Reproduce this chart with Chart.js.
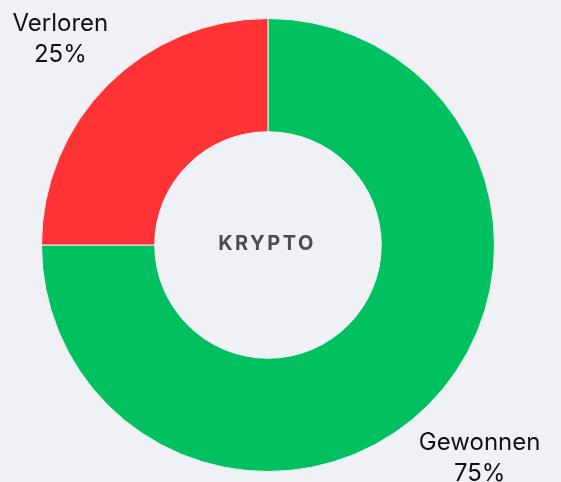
<!DOCTYPE html>
<html>
<head>
<meta charset="utf-8">
<script src="https://cdn.jsdelivr.net/npm/chart.js@4"></script>
<style>
  html, body { margin: 0; padding: 0; background: #f0f1f7; }
  #wrap { width: 561px; height: 482px; position: relative; }
</style>
</head>
<body>
<div id="wrap"><canvas id="chart"></canvas></div>
<script>
const labels = ['Gewonnen', 'Verloren'];
const values = [75, 25];
const colors = ['#00c060', '#ff3333'];
const centerTitle = 'KRYPTO';

// labels outside each slice, name + percent
const sliceLabels = {
    id: 'sliceLabels',
    afterDatasetsDraw(chart) {
        const ctx = chart.ctx;
        const meta = chart.getDatasetMeta(0);
        const total = values.reduce((a, b) => a + b, 0);
        ctx.save();
        ctx.letterSpacing = '0px';
        ctx.font = '24px Inter';
        ctx.fillStyle = '#111111';
        ctx.textAlign = 'center';
        ctx.textBaseline = 'middle';
        meta.data.forEach((arc, i) => {
            const p = arc.getProps(['x', 'y', 'startAngle', 'endAngle', 'outerRadius'], true);
            const mid = (p.startAngle + p.endAngle) / 2;
            const r = p.outerRadius + 70;
            const x = p.x + Math.cos(mid) * r + 2;
            const y = p.y + Math.sin(mid) * r + 3;
            ctx.fillText(labels[i], x, y - 15);
            ctx.fillText(Math.round(values[i] / total * 100) + '%', x, y + 16);
        });
        ctx.restore();
    }
};

const centerText = {
    id: 'centerText',
    afterDatasetsDraw(chart) {
        const ctx = chart.ctx;
        const arc = chart.getDatasetMeta(0).data[0];
        ctx.save();
        ctx.font = 'bold 20px Inter';
        ctx.letterSpacing = '2.5px';
        ctx.fillStyle = '#4d4d50';
        ctx.textAlign = 'center';
        ctx.textBaseline = 'middle';
        ctx.fillText(centerTitle, arc.x - 1, arc.y - 1);
        ctx.letterSpacing = '0px';
        ctx.restore();
    }
};

new Chart(document.getElementById('chart'), {
    type: 'doughnut',
    data: {
        labels: labels,
        datasets: [{
            data: values,
            backgroundColor: colors,
            borderColor: '#f0f1f7',
            borderWidth: 1
        }]
    },
    options: {
        responsive: true,
        maintainAspectRatio: false,
        animation: false,
        cutout: '50%',
        layout: { padding: { left: 41, right: 66, top: 18, bottom: 10 } },
        plugins: {
            legend: { display: false },
            tooltip: { enabled: false }
        }
    },
    plugins: [sliceLabels, centerText]
});
</script>
</body>
</html>
